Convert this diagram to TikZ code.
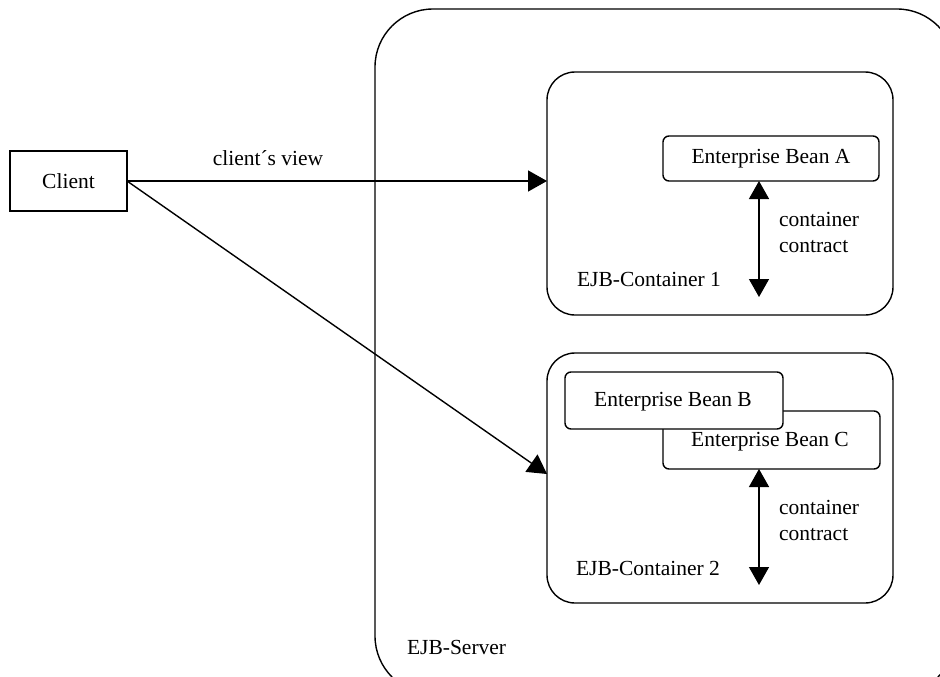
\documentclass[tikz,border=0pt]{standalone}
\usepackage{fontspec}
\setmainfont{Liberation Serif}
\usetikzlibrary{arrows.meta,calc}
\begin{document}
\begin{tikzpicture}[x=1pt,y=-1pt,
  line width=1.4pt,
  every node/.style={font=\fontsize{21.5}{26}\selectfont, inner sep=0pt, outer sep=0pt},
  box/.style={draw, line width=1.4pt, fill=white},
  server/.style={box, rounded corners=58pt},
  container/.style={box, rounded corners=28pt},
  bean/.style={box, rounded corners=6pt},
  plainbox/.style={box},
  lbl/.style={anchor=west},
  flow/.style={-{Triangle[length=19pt,width=21pt]}, line width=1.4pt},
  contract/.style={{Triangle[length=18pt,width=20pt]}-{Triangle[length=18pt,width=20pt]}, line width=1.4pt}
]
\useasboundingbox (0,0) rectangle (940,677);
\clip (0,0) rectangle (940,677);

% EJB server (runs past the right and bottom edges)
\node[server, minimum width=580pt, minimum height=685pt, anchor=north west] (server) at (375,9) {};
\node[lbl] (serverlbl) at (407,647) {EJB-Server};

% Container 1 with bean A
\node[container, minimum width=346pt, minimum height=243pt, anchor=north west] (c1) at (547,72) {};
\node[bean, minimum width=216pt, minimum height=45pt, anchor=north west] (beanA) at (663,136) {};
\node (beanAtxt) at (beanA.center) {Enterprise Bean A};
\node[lbl] (c1lbl) at (577,279) {EJB-Container 1};
\coordinate (c1end) at (759,297);
\draw[contract] (beanA.south -| c1end) -- (c1end);
\node[lbl] (cc1a) at (779,219) {container};
\node[lbl] (cc1b) at (779,247) {contract};

% Container 2 with beans B and C
\node[container, minimum width=346pt, minimum height=250pt, anchor=north west] (c2) at (547,353) {};
\node[bean, minimum width=217pt, minimum height=58pt, anchor=north west] (beanC) at (663,411) {};
\node (beanCtxt) at (770,442) {Enterprise Bean C};
\node[bean, minimum width=218pt, minimum height=57pt, anchor=north west] (beanB) at (565,372) {};
\node (beanBtxt) at (673,402) {Enterprise Bean B};
\node[lbl] (c2lbl) at (576,568) {EJB-Container 2};
\coordinate (c2end) at (759,585);
\draw[contract] (beanC.south -| c2end) -- (c2end);
\node[lbl] (cc2a) at (779,507) {container};
\node[lbl] (cc2b) at (779,535) {contract};

% Client and its views
\node[plainbox, minimum width=117pt, minimum height=60pt, anchor=north west] (client) at (10,151) {};
\node (clienttxt) at (client.center) {Client};
\draw[flow] (client.east) -- (client.east -| c1.west);
\node (viewlbl) at (268,158) {client\char"00B4 s view};
\draw[flow] (client.east) -- ($(c2.west)+(0,-4)$);
\end{tikzpicture}
\end{document}
